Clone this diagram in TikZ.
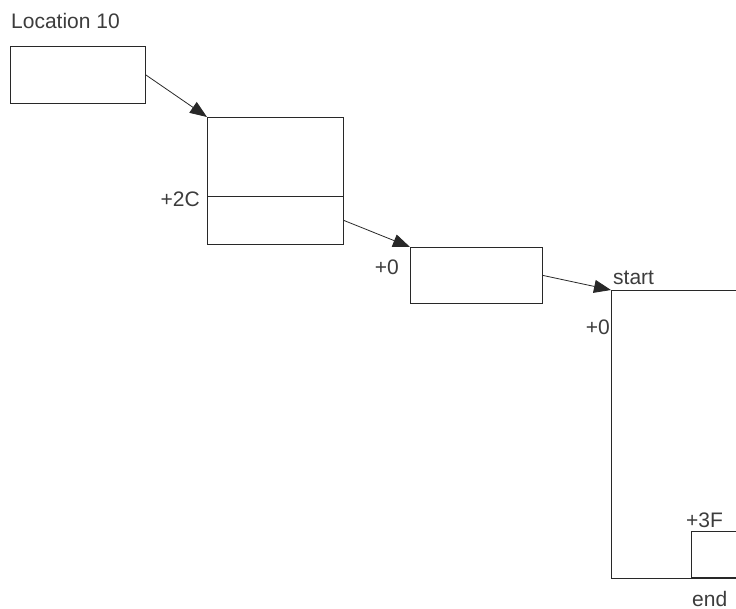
\documentclass[tikz,border=0pt]{standalone}
\usepackage{fontspec}
\setmainfont{Liberation Sans}
\usetikzlibrary{arrows.meta,positioning,calc}
\definecolor{lineblack}{RGB}{40,40,40}
\definecolor{labelgray}{RGB}{60,60,60}

\tikzset{
  cell/.style={draw=lineblack, line width=0.8pt, rectangle, inner sep=0pt},
  link/.style={draw=lineblack, line width=0.8pt, -{Triangle[length=17pt,width=13pt]}},
  tag/.style={text=labelgray, inner sep=0pt, font=\fontsize{21}{25}\selectfont}
}

\begin{document}
\begin{tikzpicture}[x=1pt,y=-1pt]
    \useasboundingbox (0,0) rectangle (736,609);
    \clip (0,0) rectangle (736,609);

    % first block
    \node[tag, anchor=base west] (loclabel) at (11,29) {Location 10};
    \node[cell, minimum width=135pt, minimum height=57pt, anchor=north west] (loc) at (10,46) {};

    % second block, split at +2C
    \node[cell, minimum width=136pt, minimum height=127pt, anchor=north west] (blk) at (207,117) {};
    \coordinate (cut) at (207,196);
    \draw[lineblack, line width=0.8pt] (cut) -- (cut -| blk.east);
    \node[tag, anchor=base east] (cutlabel) at (200,206.5) {+2C};
    \coordinate (blkout) at ($(cut -| blk.east)!0.5!(blk.south east)$);

    % third block
    \node[cell, minimum width=132pt, minimum height=56pt, anchor=north west] (ptr) at (410,247) {};
    \node[tag, anchor=base east] (ptrlabel) at (399,275) {+0};

    % storage area, runs off the right edge
    \node[cell, minimum width=160pt, minimum height=288pt, anchor=north west] (area) at (611,290) {};
    \node[tag, anchor=base west] (startlabel) at (613,285) {start};
    \node[tag, anchor=base east] (arealabel) at (610,335) {+0};
    \node[cell, minimum width=80pt, minimum height=46pt, anchor=south west] (tail) at (691,578) {};
    \node[tag, anchor=base west] (taillabel) at (686,527) {+3F};
    \node[tag, anchor=base west] (endlabel) at (692,606) {end};

    % links
    \draw[link] (loc.east) -- (blk.north west);
    \draw[link] (blkout) -- (ptr.north west);
    \draw[link] (ptr.east) -- (area.north west);
\end{tikzpicture}
\end{document}
